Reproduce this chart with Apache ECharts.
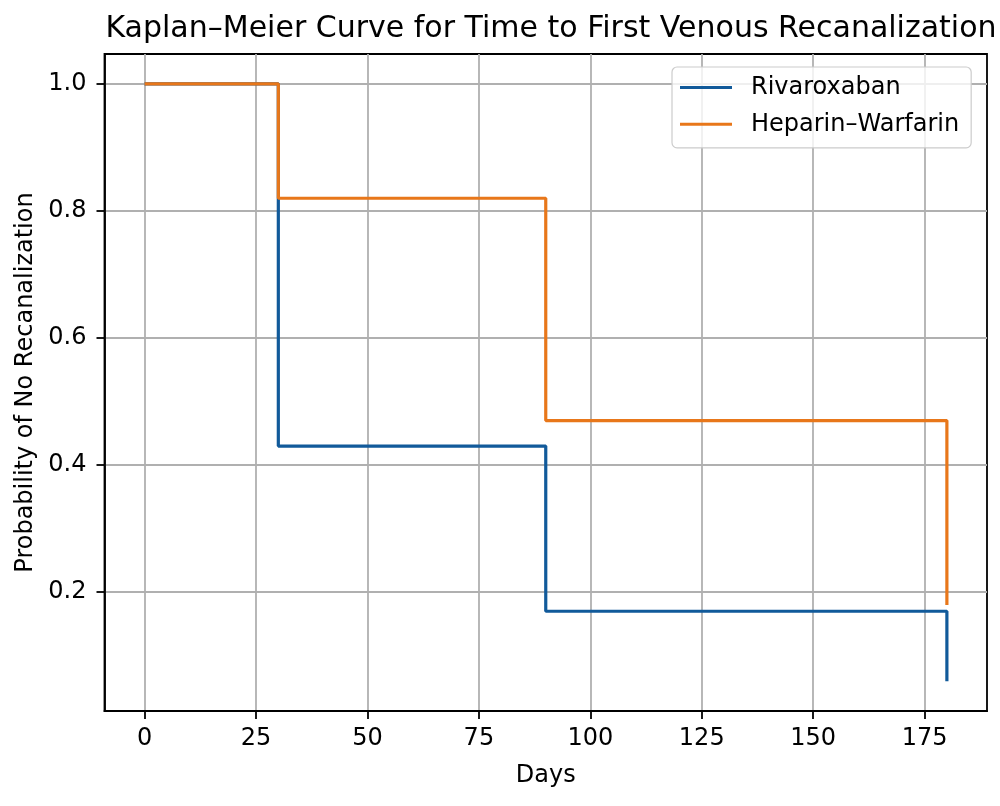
<!DOCTYPE html>
<html>
<head>
<meta charset="utf-8">
<script src="https://cdn.jsdelivr.net/npm/echarts@6/dist/echarts.min.js"></script>
<style>
html,body{margin:0;padding:0;background:#fff;}
#chart{width:1000px;height:806px;}
</style>
</head>
<body>
<div id="chart"></div>
<script>
const titleText = 'Kaplan–Meier Curve for Time to First Venous Recanalization';
const seriesNames = ['Rivaroxaban', 'Heparin–Warfarin'];
const rivaroxabanDays = [0, 30, 90, 180];
const rivaroxabanProb = [1.0, 0.43, 0.17, 0.06];
const heparinDays = [0, 30, 90, 180];
const heparinProb = [1.0, 0.82, 0.47, 0.18];
const xTicks = [0, 25, 50, 75, 100, 125, 150, 175];
const yTicks = [0.2, 0.4, 0.6, 0.8, 1.0];
const xLabel = 'Days';
const yLabel = 'Probability of No Recanalization';

const FONT = 'DejaVu Sans';
const FS = 24;
const chart = echarts.init(document.getElementById('chart'), null, {renderer: 'canvas'});
const pair = (xs, ys) => xs.map((x, i) => [x, ys[i]]);

const axisCommon = {
  axisLine: {show: true, onZero: false, lineStyle: {color: '#000', width: 1.8}},
  axisTick: {show: true, length: 8, lineStyle: {color: '#000', width: 1.8}},
  splitLine: {show: true, lineStyle: {color: '#b0b0b0', width: 1.8}},
  nameTextStyle: {fontFamily: FONT, fontSize: FS, color: '#000'}
};

chart.setOption({
  animation: false,
  backgroundColor: '#fff',
  title: {
    text: titleText,
    left: 546, textAlign: 'center', top: 9,
    textStyle: {fontFamily: FONT, fontSize: 30, fontWeight: 'normal', color: '#000'}
  },
  grid: {left: 104.5, right: 13, top: 54, bottom: 95, containLabel: false,
         show: true, borderColor: '#000', borderWidth: 1.8},
  legend: {
    orient: 'vertical', left: 672, top: 67,
    data: seriesNames,
    icon: 'rect', itemWidth: 52, itemHeight: 3, itemGap: 12.7,
    padding: [8.6, 12, 11.5, 8],
    backgroundColor: 'rgba(255,255,255,0.8)', borderColor: '#cccccc', borderWidth: 1.2, borderRadius: 5,
    textStyle: {fontFamily: FONT, fontSize: FS, color: '#000', lineHeight: 24, padding: [0, 0, 0, 14]}
  },
  xAxis: Object.assign({}, axisCommon, {
    type: 'value', min: -9, max: 189,
    name: xLabel, nameLocation: 'middle', nameGap: 53,
    axisTick: Object.assign({}, axisCommon.axisTick, {customValues: xTicks}),
    axisLabel: {customValues: xTicks, fontFamily: FONT, fontSize: FS, color: '#000', margin: 16}
  }),
  yAxis: Object.assign({}, axisCommon, {
    type: 'value', min: 0.013, max: 1.047,
    name: yLabel, nameLocation: 'middle', nameGap: 65,
    axisTick: Object.assign({}, axisCommon.axisTick, {customValues: yTicks}),
    axisLabel: {customValues: yTicks, fontFamily: FONT, fontSize: FS, color: '#000', margin: 18,
                formatter: v => Number(v).toFixed(1)}
  }),
  series: [
    {name: seriesNames[0], type: 'line', step: 'end', data: pair(rivaroxabanDays, rivaroxabanProb),
     showSymbol: false, symbol: 'none', color: '#115a9a', lineStyle: {width: 3.2, color: '#115a9a'}},
    {name: seriesNames[1], type: 'line', step: 'end', data: pair(heparinDays, heparinProb),
     showSymbol: false, symbol: 'none', color: '#e8771a', lineStyle: {width: 3.2, color: '#e8771a'}}
  ]
});
</script>
</body>
</html>
